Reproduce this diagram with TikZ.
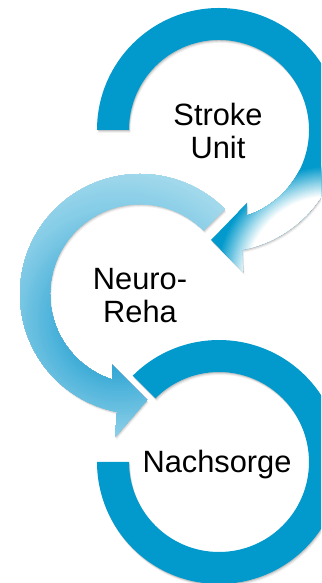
\documentclass[tikz,border=0pt]{standalone}
\usepackage{fontspec}
\setmainfont{Liberation Sans}
\definecolor{blueA}{RGB}{2,154,204}
\definecolor{lbA}{RGB}{40,162,210}
\definecolor{lbB}{RGB}{130,203,230}
\definecolor{lbC}{RGB}{200,233,243}
\tikzset{
  ringA/.style={insert path={([shift={(180:122)}]219,453) arc[start angle=180,end angle=-79,radius=122]
     -- (243,311) -- (211,343) -- (247,380) -- ([shift={(-72:90)}]219,453)
     arc[start angle=-72,end angle=180,radius=90] -- cycle}},
  ringB/.style={insert path={([shift={(45:120)}]140,289) arc[start angle=45,end angle=259,radius=120]
     -- (115,146) -- (147,183) -- (112,218) -- ([shift={(252:90)}]140,289)
     arc[start angle=252,end angle=45,radius=90] -- cycle}},
  ringC/.style={insert path={([shift={(135:122)}]219,121) arc[start angle=135,end angle=-180,radius=122]
     -- ([shift={(180:90)}]219,121) arc[start angle=180,end angle=495,radius=90] -- cycle}},
  lbl/.style={font=\fontsize{30.8}{33}\selectfont, align=center, inner sep=0pt, text=black},
  shadowA/.style={black, opacity=0.12, shift={(0.5,-1)}},
  shadowB/.style={black, opacity=0.08, shift={(1,-2)}},
  shadowC/.style={black, opacity=0.05, shift={(1.5,-3)}}
}
\begin{document}
\begin{tikzpicture}[x=1pt,y=1pt]
\useasboundingbox (0,0) rectangle (321,583);
\fill[white] (0,0) rectangle (321,583);
\clip (0,0) rectangle (321,583);
% shadows
\foreach \s in {shadowA,shadowB,shadowC}{
  \fill[\s, ringA];
  \fill[\s, ringB];
  \fill[\s, ringC];
}
% ring 1: Stroke Unit
\begin{scope}
  \clip[ringA];
  \fill[blueA] (0,0) rectangle (400,600);
  \foreach \d in {114,113,...,84}{
    \pgfmathtruncatemacro\p{(\d-84)*100/30}
    \fill[blueA!\p!white] (330,303) circle[radius=\d];
  }
\end{scope}
% ring 2: Neuro-Reha
\begin{scope}
  \clip[ringB];
  \fill[lbC] (0,0) rectangle (400,600);
  \foreach \d in {200,198,...,110}{
    \pgfmathtruncatemacro\p{(200-\d)*100/90}
    \fill[lbB!\p!lbC] (120,263) circle[radius=\d];
  }
  \foreach \d in {109,107,...,39}{
    \pgfmathtruncatemacro\p{min(100,(110-\d)*100/70)}
    \fill[lbA!\p!lbB] (120,263) circle[radius=\d];
  }
\end{scope}
% ring 3: Nachsorge
\fill[blueA, ringC];
% labels
\node[lbl] (stroke) at (218,452.5) {Stroke\\Unit};
\node[lbl] (neuro) at (140,287.5) {Neuro-\\Reha};
\node[lbl, anchor=base] (nach) at (217,110) {Nachsorge};
\end{tikzpicture}
\end{document}
